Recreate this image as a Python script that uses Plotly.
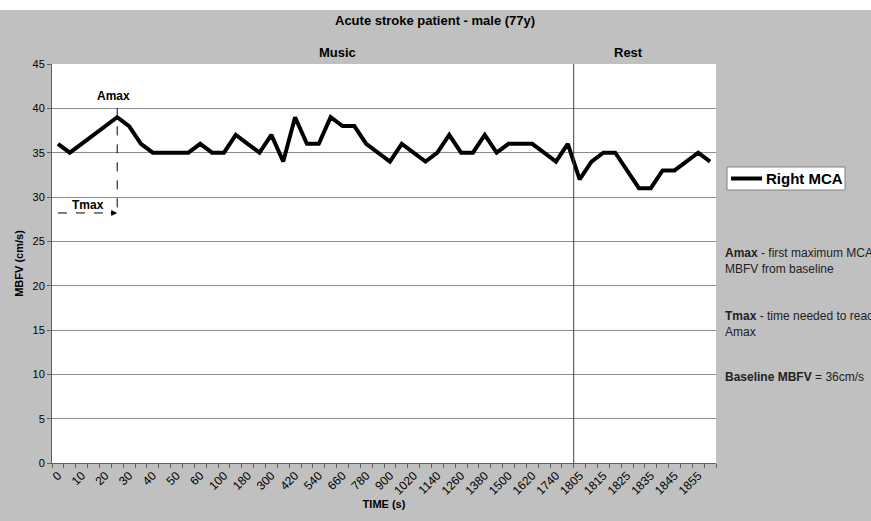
import plotly.graph_objects as go

# ---- data ----
music_times = ["0", "5", "10", "15", "20", "25", "30", "35", "40", "45", "50", "55", "60",
               "80", "100", "140", "180", "240", "300", "360", "420", "480", "540", "600",
               "660", "720", "780", "840", "900", "960", "1020", "1080", "1140", "1200",
               "1260", "1320", "1380", "1440", "1500", "1560", "1620", "1680", "1740", "1800"]
rest_times = ["1805", "1810", "1815", "1820", "1825", "1830", "1835", "1840", "1845",
              "1850", "1855", "1860"]
music_mbfv = [36, 35, 36, 37, 38, 39, 38, 36, 35, 35, 35, 35, 36, 35, 35, 37, 36, 35, 37, 34,
              39, 36, 36, 39, 38, 38, 36, 35, 34, 36, 35, 34, 35, 37, 35, 35, 37, 35, 36, 36,
              36, 35, 34, 36]
rest_mbfv = [32, 34, 35, 35, 33, 31, 31, 33, 33, 34, 35, 34]

times = music_times + rest_times
mbfv = music_mbfv + rest_mbfv
series_name = "Right MCA"
baseline = 36

n = len(times)
xs = list(range(n))
tick_idx = xs[::2]
tick_txt = [times[i] for i in tick_idx]
peak_i = max(range(len(music_mbfv)), key=lambda i: music_mbfv[i])
boundary = len(music_times) - 0.5

FONT = "Liberation Sans, Arial, sans-serif"
NARROW = "Liberation Sans Narrow, Arial Narrow, Liberation Sans, Arial, sans-serif"
GRAY = "#c0c0c0"

# pixel helpers for layout placement (plot area 52..716 x, 64..463 y)
def px(xp):
    return (xp - 52) / 664

def py(yp):
    return (463 - yp) / 399

fig = go.Figure()
fig.add_trace(go.Scatter(x=xs, y=mbfv, mode="lines", name=series_name,
                         line=dict(color="black", width=4), showlegend=False))

fig.update_layout(
    width=871, height=521,
    margin=dict(l=52, r=155, t=64, b=58),
    paper_bgcolor=GRAY, plot_bgcolor="white",
    font=dict(family=FONT, size=11, color="black"),
    showlegend=False,
)

fig.update_xaxes(
    range=[-0.5, n - 0.5], tickmode="array", tickvals=tick_idx, ticktext=tick_txt,
    tickangle=-45, ticks="", showgrid=False, zeroline=False,
    showline=True, linecolor="#606060", linewidth=1,
    tickfont=dict(family=FONT, size=12, color="black"),
    minor=dict(ticks="outside", tickmode="array",
               tickvals=[i - 0.5 for i in range(n + 1)], ticklen=4,
               tickcolor="#606060", showgrid=False),
    title=dict(text="<b>TIME (s)</b>", font=dict(family=FONT, size=11), standoff=2),
)
fig.update_yaxes(
    range=[0, 45], dtick=5, tick0=0, ticks="outside", ticklen=4, tickcolor="#606060",
    showgrid=True, gridcolor="#8c8c8c", gridwidth=1, zeroline=False,
    showline=True, linecolor="#606060", linewidth=1,
    tickfont=dict(family=FONT, size=11, color="black"),
    title=dict(text="<b>MBFV (cm/s)</b>", font=dict(family=FONT, size=11), standoff=6),
)

# white strip at top of image
fig.add_shape(type="rect", xref="paper", yref="paper", x0=-0.2, x1=1.3,
              y0=py(10), y1=py(-30), fillcolor="white", line=dict(width=0),
              layer="above")
# Music / Rest separator
fig.add_shape(type="line", xref="x", yref="paper", x0=boundary, x1=boundary, y0=0, y1=1,
              line=dict(color="#404040", width=1))
# Amax / Tmax dashed guides
tmax_y = 28.2
fig.add_shape(type="line", xref="x", yref="y", x0=peak_i, x1=peak_i, y0=40, y1=tmax_y,
              line=dict(color="black", width=1, dash="dash"))
fig.add_shape(type="line", xref="x", yref="y", x0=0, x1=peak_i - 0.2, y0=tmax_y, y1=tmax_y,
              line=dict(color="black", width=1, dash="dash"))
fig.add_annotation(x=peak_i, y=tmax_y, xref="x", yref="y", text="", showarrow=True,
                   ax=-8, ay=0, arrowhead=2, arrowsize=1, arrowwidth=1.2, arrowcolor="black")

# titles
fig.add_annotation(x=px(435), y=py(20), xref="paper", yref="paper", yanchor="middle",
                   text="<b>Acute stroke patient - male (77y)</b>", showarrow=False,
                   font=dict(family=NARROW, size=13, color="black"))
fig.add_annotation(x=px(337), y=py(53), xref="paper", yref="paper", yanchor="middle",
                   text="<b>Music</b>", showarrow=False,
                   font=dict(family=NARROW, size=13, color="black"))
fig.add_annotation(x=px(645), y=py(53), xref="paper", yref="paper", yanchor="middle",
                   text="<b>Rest</b>", showarrow=False,
                   font=dict(family=NARROW, size=13, color="black"))
fig.add_annotation(x=peak_i - 0.3, y=41.4, xref="x", yref="y", yanchor="middle",
                   text="<b>Amax</b>", showarrow=False,
                   font=dict(family=FONT, size=12, color="black"))
fig.add_annotation(x=peak_i / 2, y=29.1, xref="x", yref="y", yanchor="middle",
                   text="<b>Tmax</b>", showarrow=False,
                   font=dict(family=FONT, size=12, color="black"))

# manual legend box
fig.add_shape(type="rect", xref="paper", yref="paper", x0=px(727), x1=px(845),
              y0=py(190), y1=py(167), fillcolor="white",
              line=dict(color="#808080", width=1), layer="above")
fig.add_shape(type="line", xref="paper", yref="paper", x0=px(731), x1=px(762),
              y0=py(178.5), y1=py(178.5), line=dict(color="black", width=4), layer="above")
fig.add_annotation(x=px(764), y=py(178.5), xref="paper", yref="paper",
                   xanchor="left", yanchor="middle",
                   text=f"<b>{series_name}</b>", showarrow=False,
                   font=dict(family=FONT, size=15, color="black"))

side = dict(xref="paper", yref="paper", showarrow=False, xanchor="left", yanchor="middle",
            align="left", font=dict(family=FONT, size=12, color="#222222"))
fig.add_annotation(x=px(723), y=py(261),
                   text="<b>Amax</b> - first maximum MCA<br>MBFV from baseline", **side)
fig.add_annotation(x=px(723), y=py(324),
                   text="<b>Tmax</b> - time needed to reach<br>Amax", **side)
fig.add_annotation(x=px(723), y=py(377),
                   text=f"<b>Baseline MBFV</b> = {baseline}cm/s", **side)

fig.write_html("out.html", config={"displayModeBar": False},
               post_script="document.body.style.margin='0';")
